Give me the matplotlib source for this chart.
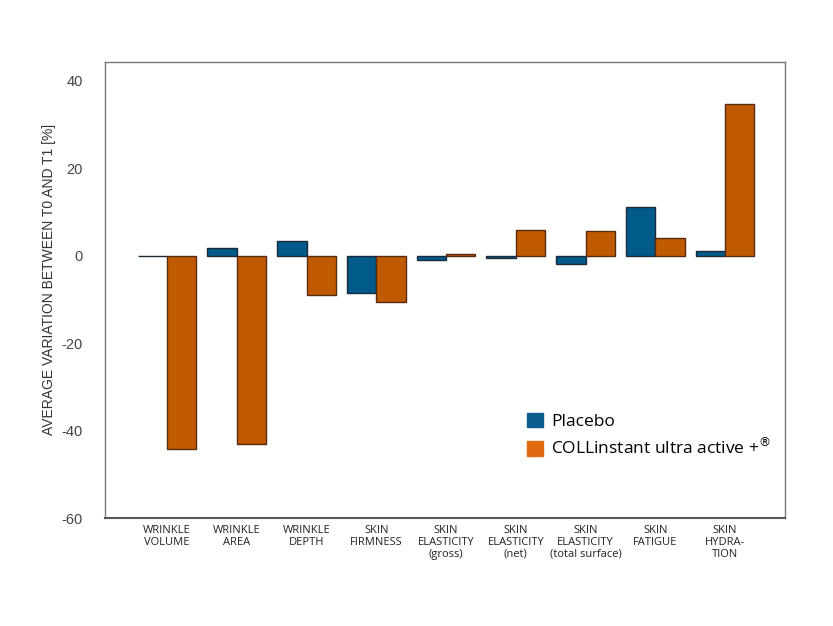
import matplotlib
matplotlib.use("Agg")
import matplotlib.pyplot as plt
import numpy as np
from matplotlib.patches import Patch

plt.rcParams['font.family'] = ['Open Sans', 'DejaVu Sans']

categories = ["WRINKLE\nVOLUME", "WRINKLE\nAREA", "WRINKLE\nDEPTH", "SKIN\nFIRMNESS",
              "SKIN\nELASTICITY\n(gross)", "SKIN\nELASTICITY\n(net)",
              "SKIN\nELASTICITY\n(total surface)", "SKIN\nFATIGUE", "SKIN\nHYDRA-\nTION"]
placebo = [-0.1, 1.8, 3.4, -8.5, -1.0, -0.5, -1.9, 11.2, 1.1]
collinstant = [-44.2, -43.0, -9.0, -10.6, 0.4, 5.9, 5.6, 4.0, 34.8]
yticks = [40, 20, 0, -20, -40, -60]

fig = plt.figure(figsize=(8.33, 6.26), dpi=100)
ax = fig.add_axes([105/833, 1-518/626, 680/833, (518-62)/626])

x = np.arange(len(categories))
w = 0.42
blue = '#005a8a'
orange = '#c05a00'
ax.bar(x - w/2, placebo, w, color=blue, edgecolor='#1a2a3a', linewidth=1.0)
ax.bar(x + w/2, collinstant, w, color=orange, edgecolor='#5a2a10', linewidth=1.0)

ax.set_xlim(-0.889, 8.86)
ax.set_ylim(-60, 44.3)
ax.set_yticks(yticks)
ax.set_yticklabels([str(t) for t in yticks], fontsize=10.5, color='#444444',
                   family=['Liberation Sans', 'DejaVu Sans'])
ax.set_xticks(x)
ax.set_xticklabels(categories, fontsize=8, color='#222222', linespacing=1.1)
ax.tick_params(axis='y', length=0, pad=16)
ax.tick_params(axis='x', length=0, pad=5)
for s in ax.spines.values():
    s.set_color('#777777')
    s.set_linewidth(1.0)
ax.spines['bottom'].set_color('#555555')
ax.spines['bottom'].set_linewidth(1.5)

ax.set_ylabel("AVERAGE VARIATION BETWEEN T0 AND T1 [%]", fontsize=10, color='#333333',
              family=['Liberation Sans', 'DejaVu Sans'])
ax.yaxis.set_label_coords(-0.072, (518 - 279) / 456)

handles = [Patch(facecolor='#0a5f8f', edgecolor='#0a5f8f'),
           Patch(facecolor='#e06a10', edgecolor='#e06a10')]
ax.legend(handles, ["Placebo", "COLLinstant ultra active +$^{®}$"],
          loc='upper left', bbox_to_anchor=((527-105)/680, (518-413)/456),
          frameon=False, borderpad=0, borderaxespad=0,
          fontsize=12.5, handlelength=0.9, handleheight=0.9, handletextpad=0.5,
          labelspacing=0.42)

fig.savefig("out.png", dpi=100)
